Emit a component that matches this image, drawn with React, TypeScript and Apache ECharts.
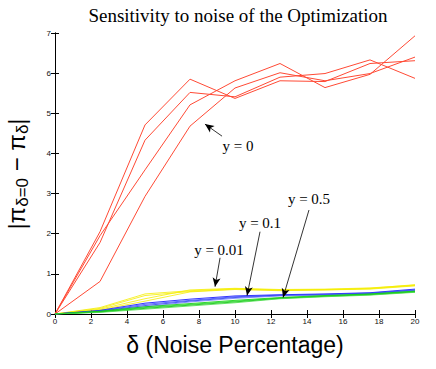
import React, { useEffect, useRef } from "react";
import * as echarts from "echarts";

const xValues = [0, 2.5, 5, 7.5, 10, 12.5, 15, 17.5, 20];
const xTicks = [0, 2, 4, 6, 8, 10, 12, 14, 16, 18, 20];

const redLines = [
  [0, 2.05, 4.71, 5.85, 5.37, 5.81, 5.79, 6.24, 6.31],
  [0, 1.78, 4.33, 5.52, 5.41, 5.9, 5.99, 6.33, 5.87],
  [0, 1.95, 3.59, 5.21, 5.81, 6.24, 5.64, 5.97, 6.93],
  [0, 0.81, 2.93, 4.68, 5.63, 6.01, 5.81, 5.99, 6.4],
];
const yellowLines = [
  [0, 0.16, 0.5, 0.58, 0.63, 0.6, 0.61, 0.64, 0.73],
  [0, 0.14, 0.46, 0.56, 0.62, 0.59, 0.6, 0.63, 0.71],
  [0, 0.12, 0.38, 0.6, 0.64, 0.61, 0.62, 0.65, 0.72],
  [0, 0.1, 0.32, 0.55, 0.61, 0.58, 0.6, 0.62, 0.7],
];
const blueLines = [
  [0, 0.09, 0.27, 0.37, 0.45, 0.48, 0.5, 0.53, 0.62],
  [0, 0.08, 0.24, 0.34, 0.43, 0.47, 0.49, 0.52, 0.6],
  [0, 0.07, 0.21, 0.32, 0.41, 0.46, 0.48, 0.51, 0.59],
  [0, 0.06, 0.18, 0.3, 0.39, 0.45, 0.47, 0.5, 0.58],
];
const greenLines = [
  [0, 0.07, 0.18, 0.26, 0.34, 0.41, 0.46, 0.5, 0.57],
  [0, 0.06, 0.16, 0.24, 0.32, 0.4, 0.45, 0.49, 0.56],
  [0, 0.05, 0.14, 0.22, 0.3, 0.39, 0.44, 0.48, 0.55],
  [0, 0.04, 0.12, 0.2, 0.28, 0.38, 0.43, 0.47, 0.54],
];

// annotation arrows: [from, to] in data coordinates
const arrows = [
  [[9.28, 4.43], [8.33, 4.73]],
  [[9.17, 1.4], [8.89, 0.68]],
  [[11.39, 2.05], [10.67, 0.46]],
  [[14.11, 2.59], [12.67, 0.41]],
];
const annotationTexts = ["y = 0", "y = 0.01", "y = 0.1", "y = 0.5"];

export default function App() {
  const ref = useRef<HTMLDivElement>(null);
  useEffect(() => {
    if (!ref.current) return;
    const chart = echarts.init(ref.current, null, { renderer: "svg" });
    const mk = (vals: number[], color: string, width: number) => ({
      type: "line",
      data: xValues.map((x, i) => [x, vals[i]]),
      showSymbol: false,
      symbol: "none",
      lineStyle: { color, width },
      itemStyle: { color },
      silent: true,
    });
    const series: any[] = [];
    redLines.forEach((v) => series.push(mk(v, "#ff4a35", 1)));
    yellowLines.forEach((v) => series.push(mk(v, "#f5ee00", 0.8)));
    blueLines.forEach((v, i) =>
      series.push(mk(v, ["#0000ff", "#3344ff", "#2233ee", "#6677ff"][i], 0.8))
    );
    greenLines.forEach((v, i) =>
      series.push(mk(v, ["#00cc00", "#22dd22", "#00bb00", "#44dd44"][i], 0.8))
    );
    series.push({
      type: "line",
      data: [],
      silent: true,
      markLine: {
        silent: true,
        symbol: ["none", "arrow"],
        symbolSize: [6, 9],
        label: { show: false },
        lineStyle: { color: "#000", width: 0.8, type: "solid" },
        data: arrows.map(([a, b]) => [{ coord: a }, { coord: b }]),
      },
    });
    const labelPos = [
      [238, 146],
      [219, 250],
      [260, 223],
      [309, 199],
    ];
    const font = "'Liberation Serif', 'Times New Roman', serif";
    const option: any = {
      animation: false,
      grid: { left: 55, right: 21, top: 33, bottom: 55 },
      title: {
        text: "Sensitivity to noise of the Optimization",
        left: 233,
        textAlign: "center",
        top: 1,
        textStyle: { fontFamily: font, fontSize: 19, fontWeight: "normal", color: "#000" },
      },
      xAxis: [
        {
          type: "value",
          min: 0,
          max: 20,
          interval: 2,
          axisLine: { show: true, lineStyle: { color: "#000", width: 1 } },
          axisTick: { show: true, inside: true, length: 4, lineStyle: { color: "#000" } },
          axisLabel: {
            fontSize: 8,
            color: "#111",
            margin: 3,
            fontFamily: "'Liberation Sans', Arial, sans-serif",
            formatter: (v: number) => (xTicks.includes(v) ? String(v) : ""),
          },
          splitLine: { show: false },
          name: "δ (Noise Percentage)",
          nameLocation: "middle",
          nameGap: 19,
          nameTextStyle: {
            fontSize: 23,
            color: "#000",
            fontFamily: "'Liberation Sans', Arial, sans-serif",
          },
        },
        {
          type: "value",
          position: "top",
          min: 0,
          max: 20,
          interval: 2,
          axisLine: { show: true, lineStyle: { color: "#000", width: 1 } },
          axisTick: { show: true, inside: true, length: 4, lineStyle: { color: "#000" } },
          axisLabel: { show: false },
          splitLine: { show: false },
        },
      ],
      yAxis: [
        {
          type: "value",
          min: 0,
          max: 7,
          interval: 1,
          axisLine: { show: true, lineStyle: { color: "#000", width: 1 } },
          axisTick: { show: true, inside: true, length: 4, lineStyle: { color: "#000" } },
          axisLabel: {
            fontSize: 8,
            color: "#111",
            margin: 4,
            fontFamily: "'Liberation Sans', Arial, sans-serif",
          },
          splitLine: { show: false },
        },
        {
          type: "value",
          position: "right",
          min: 0,
          max: 7,
          interval: 1,
          axisLine: { show: true, lineStyle: { color: "#000", width: 1 } },
          axisTick: { show: true, inside: true, length: 4, lineStyle: { color: "#000" } },
          axisLabel: { show: false },
          splitLine: { show: false },
        },
      ],
      graphic: [
        ...annotationTexts.map((t, i) => ({
          type: "text",
          x: labelPos[i][0],
          y: labelPos[i][1],
          style: {
            text: t,
            fontFamily: font,
            fontSize: 15,
            fill: "#000",
            align: "center",
            verticalAlign: "middle",
          },
        })),
        {
          type: "text",
          x: 16,
          y: 174,
          rotation: Math.PI / 2,
          style: {
            text: "|π{s|δ=0} − π{s|δ}|",
            fontFamily: "'Liberation Sans', Arial, sans-serif",
            fontSize: 24,
            fill: "#000",
            align: "center",
            verticalAlign: "middle",
            rich: {
              s: {
                fontSize: 17,
                fontFamily: "'Liberation Sans', Arial, sans-serif",
                fill: "#000",
                padding: [12, 0, 0, 0],
              },
            },
          },
        },
      ],
      series,
    };
    chart.setOption(option);
    return () => chart.dispose();
  }, []);
  return (
    <div
      ref={ref}
      style={{ position: "fixed", left: 0, top: 0, width: 436, height: 369, background: "#fff" }}
    />
  );
}
